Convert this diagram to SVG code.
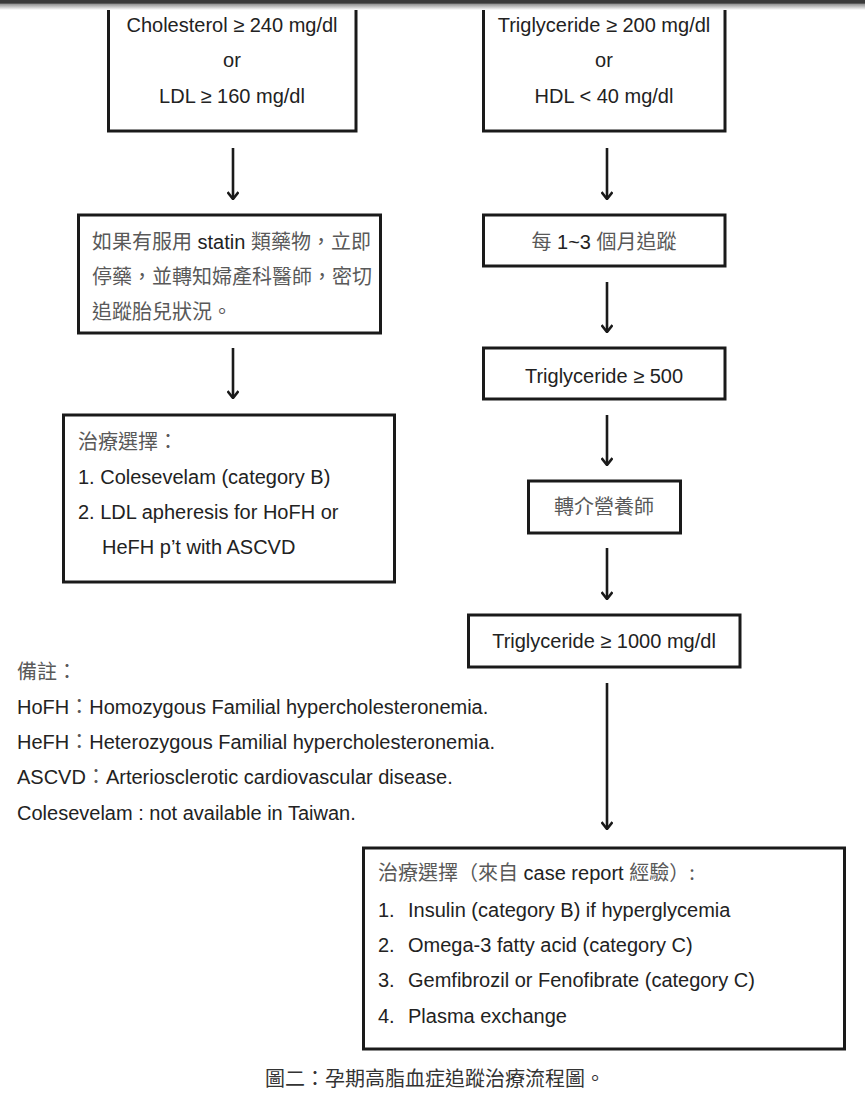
<svg xmlns="http://www.w3.org/2000/svg" width="865" height="1093" viewBox="0 0 865 1093">
<defs>
<linearGradient id="shade" x1="0" y1="0" x2="0" y2="1">
<stop offset="0" stop-color="#3a3a3a"/>
<stop offset="0.3" stop-color="#3a3a3a"/>
<stop offset="0.45" stop-color="#9a9a9a"/>
<stop offset="1" stop-color="#ffffff"/>
</linearGradient>
<marker id="arr" viewBox="0 0 12 12" markerWidth="12" markerHeight="12" refX="11" refY="6" orient="auto" markerUnits="userSpaceOnUse">
<path d="M4,0.5 L11,6 L4,11.5" fill="none" stroke="#1a1a1a" stroke-width="2.6"/>
</marker>
<style>
.box{fill:#ffffff;stroke:#1a1a1a;stroke-width:3}
.t{font-family:"Liberation Sans","Noto Sans CJK TC",sans-serif;font-size:20px;fill:#222}
.c{font-family:"Noto Sans CJK TC",sans-serif;fill:#595959}
.mid{text-anchor:middle}
.conn{stroke:#1a1a1a;stroke-width:2.6;fill:none;marker-end:url(#arr)}
</style>
</defs>
<rect x="0" y="0" width="865" height="1093" fill="#ffffff"/>

<g id="n1">
<rect class="box" x="108.5" y="-10" width="247.5" height="141"/>
<text class="t mid" x="232" y="32">Cholesterol ≥ 240 mg/dl</text>
<text class="t mid" x="232" y="67">or</text>
<text class="t mid" x="232" y="103">LDL ≥ 160 mg/dl</text>
</g>
<g id="n2">
<rect class="box" x="483.5" y="-10" width="241.5" height="141"/>
<text class="t mid" x="604" y="32">Triglyceride ≥ 200 mg/dl</text>
<text class="t mid" x="604" y="67">or</text>
<text class="t mid" x="604" y="103">HDL &lt; 40 mg/dl</text>
</g>

<rect x="0" y="0" width="865" height="10" fill="url(#shade)"/>

<g id="n3">
<rect class="box" x="78.5" y="215" width="302" height="118"/>
<text class="t" x="92" y="249"><tspan class="c">如果有服用</tspan> statin <tspan class="c">類藥物，立即</tspan></text>
<text class="t c" x="92" y="284">停藥，並轉知婦產科醫師，密切</text>
<text class="t c" x="92" y="319">追蹤胎兒狀況。</text>
</g>
<g id="n4">
<rect class="box" x="63.5" y="415" width="331" height="167"/>
<text class="t c" x="78" y="449">治療選擇：</text>
<text class="t" x="78" y="484">1. Colesevelam (category B)</text>
<text class="t" x="78" y="519">2. LDL apheresis for HoFH or</text>
<text class="t" x="102" y="554">HeFH p’t with ASCVD</text>
</g>

<g id="n5">
<rect class="box" x="483.5" y="215" width="241.5" height="51"/>
<text class="t mid" x="604" y="249"><tspan class="c">每</tspan> 1~3 <tspan class="c">個月追蹤</tspan></text>
</g>
<g id="n6">
<rect class="box" x="483.5" y="348" width="241.5" height="51"/>
<text class="t mid" x="604" y="383">Triglyceride ≥ 500</text>
</g>
<g id="n7">
<rect class="box" x="528.5" y="481" width="152" height="52"/>
<text class="t c mid" x="604" y="514">轉介營養師</text>
</g>
<g id="n8">
<rect class="box" x="468.5" y="615" width="271.5" height="52"/>
<text class="t mid" x="604" y="648">Triglyceride ≥ 1000 mg/dl</text>
</g>
<g id="n9">
<rect class="box" x="363.5" y="848" width="481" height="201"/>
<text class="t" x="378" y="880"><tspan class="c">治療選擇（來自</tspan> case report <tspan class="c">經驗）:</tspan></text>
<text class="t" x="378" y="917">1.<tspan x="408">Insulin (category B) if hyperglycemia</tspan></text>
<text class="t" x="378" y="952">2.<tspan x="408">Omega-3 fatty acid (category C)</tspan></text>
<text class="t" x="378" y="987">3.<tspan x="408">Gemfibrozil or Fenofibrate (category C)</tspan></text>
<text class="t" x="378" y="1023">4.<tspan x="408">Plasma exchange</tspan></text>
</g>

<g id="notes">
<text class="t c" x="17" y="679">備註：</text>
<text class="t" x="17" y="714">HoFH<tspan class="c">：</tspan>Homozygous Familial hypercholesteronemia.</text>
<text class="t" x="17" y="749">HeFH<tspan class="c">：</tspan>Heterozygous Familial hypercholesteronemia.</text>
<text class="t" x="17" y="784">ASCVD<tspan class="c">：</tspan>Arteriosclerotic cardiovascular disease.</text>
<text class="t" x="17" y="820">Colesevelam : not available in Taiwan.</text>
</g>

<g id="caption">
<text class="t mid" x="435" y="1086" style="font-family:'Noto Sans CJK TC',sans-serif;fill:#333">圖二：孕期高脂血症追蹤治療流程圖。</text>
</g>

<g id="connectors">
<line class="conn" x1="233" y1="148" x2="233" y2="199"/>
<line class="conn" x1="233" y1="348" x2="233" y2="398"/>
<line class="conn" x1="607" y1="148" x2="607" y2="199"/>
<line class="conn" x1="607" y1="282" x2="607" y2="332"/>
<line class="conn" x1="607" y1="415" x2="607" y2="465"/>
<line class="conn" x1="607" y1="548" x2="607" y2="599"/>
<line class="conn" x1="607" y1="683" x2="607" y2="829"/>
</g>
</svg>
